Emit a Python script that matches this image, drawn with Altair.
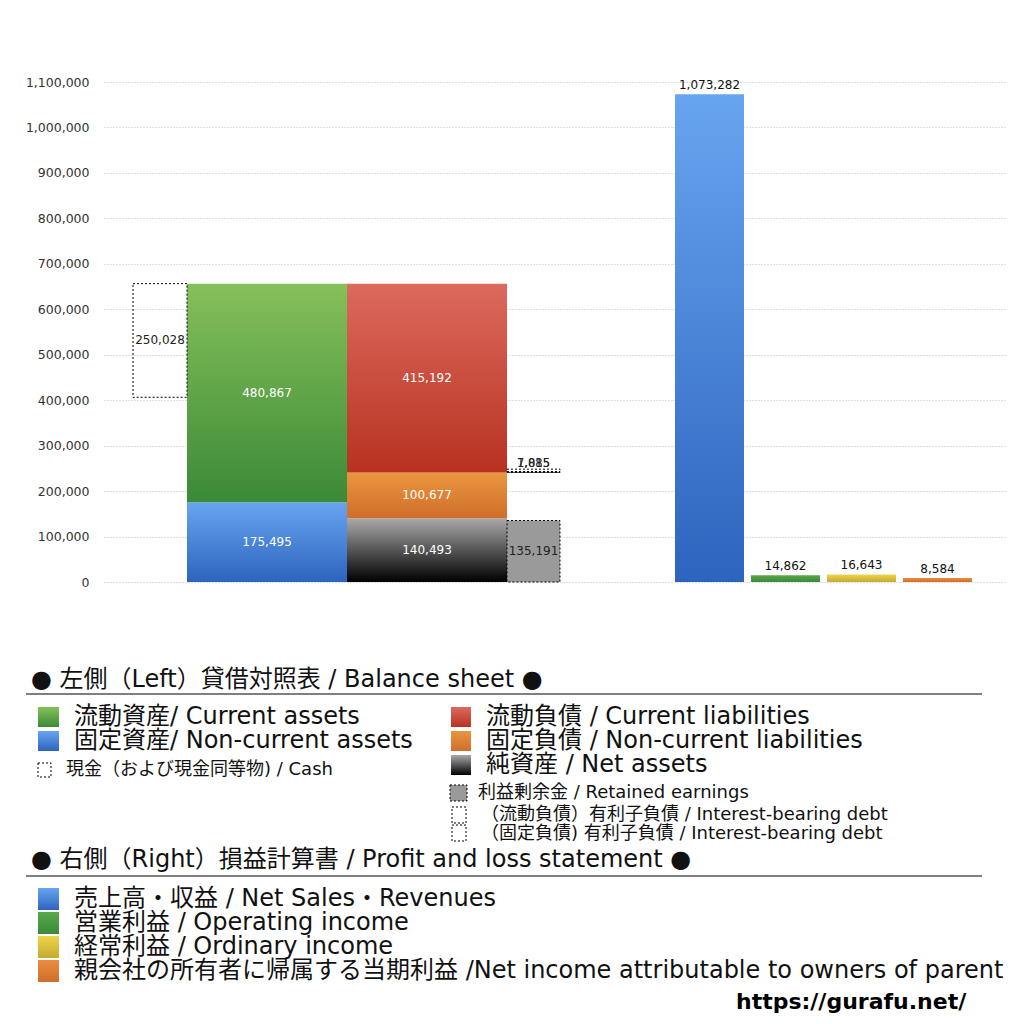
import altair as alt
import pandas as pd

# ---------------- data ----------------
assets_labels = ["固定資産", "流動資産"]            # bottom -> top
assets_values = [175495, 480867]
liab_labels = ["純資産", "固定負債", "流動負債"]       # bottom -> top
liab_values = [140493, 100677, 415192]
cash_value = 250028
retained_value = 135191
ibd_labels = ["（流動負債）有利子負債", "（固定負債) 有利子負債"]
ibd_values = [7085, 1815]
pl_labels = ["売上高・収益", "営業利益", "経常利益", "親会社の所有者に帰属する当期利益"]
pl_values = [1073282, 14862, 16643, 8584]

y_ticks = [0, 100000, 200000, 300000, 400000, 500000, 600000, 700000, 800000, 900000, 1000000, 1100000]

header_bs = "● 左側（Left）貸借対照表 / Balance sheet ●"
header_pl = "● 右側（Right）損益計算書 / Profit and loss statement ●"
legend_big_left = ["流動資産/ Current assets", "固定資産/ Non-current assets"]
legend_small_left = ["現金（および現金同等物) / Cash"]
legend_big_right = ["流動負債 /  Current liabilities", "固定負債 / Non-current liabilities", "純資産 / Net assets"]
legend_small_right = ["利益剰余金 / Retained earnings",
                      "（流動負債）有利子負債 / Interest-bearing debt",
                      "（固定負債) 有利子負債 / Interest-bearing debt"]
legend_pl = ["売上高・収益 / Net Sales・Revenues", "営業利益 / Operating income",
             "経常利益 / Ordinary income",
             "親会社の所有者に帰属する当期利益 /Net income attributable to owners of parent"]
source_text = "https://gurafu.net/"

# ---------------- layout / style ----------------
W, H = 901, 500
OX, OY = 104, 82          # plot origin on the page
FONT = "DejaVu Sans, Noto Sans CJK JP"
NUMFONT = "DejaVu Sans"

slots = {  # horizontal extents of columns in x-scale units
    "cash": (29, 83), "assets": (83, 243), "liab": (243, 403), "side": (403, 456),
    "pl0": (571, 640), "pl1": (647, 716), "pl2": (723, 792), "pl3": (799, 868),
}
G = {
    "green": ("#86c05a", "#3b8a37"),
    "blue": ("#68a5f0", "#2d64be"),
    "red": ("#dc6a5e", "#b8321f"),
    "orange": ("#ea963f", "#d06e2b"),
    "black": ("#aaaaaa", "#000000"),
    "yellow": ("#eed54c", "#c7a92f"),
    "plgreen": ("#5aa84a", "#3b8a37"),
    "plorange": ("#ea8d40", "#d06e2b"),
}


def grad(key):
    top, bottom = G[key]
    return alt.Gradient(gradient="linear",
                        stops=[alt.GradientStop(color=top, offset=0),
                               alt.GradientStop(color=bottom, offset=1)],
                        x1=0, x2=0, y1=0, y2=1)


xs = alt.Scale(domain=[0, W], nice=False, zero=False)
ys = alt.Scale(domain=[0, 1100000], nice=False)
yaxis = alt.Axis(values=y_ticks, title=None, ticks=False, domain=False,
                 labelExpr="format(datum.value, ',')",
                 labelPadding=15, labelFont=NUMFONT, labelFontSize=12.5, labelColor="#333",
                 gridDash=[1, 2], gridColor="#bbbbbb")


def seg_df(slot, y0, y1, label):
    return pd.DataFrame([{"x0": slots[slot][0], "x1": slots[slot][1], "y0": y0, "y1": y1,
                          "ym": (y0 + y1) / 2, "xm": (slots[slot][0] + slots[slot][1]) / 2,
                          "label": f"{label:,}"}])


def enc(ch):
    return ch.encode(x=alt.X("x0:Q", scale=xs, axis=None), x2="x1:Q",
                     y=alt.Y("y0:Q", scale=ys, axis=yaxis), y2="y1:Q")


layers = []
labels = []

# assets column
base = 0
for lab, v, c in zip(assets_labels, assets_values, ["blue", "green"]):
    d = seg_df("assets", base, base + v, v)
    layers.append(enc(alt.Chart(d).mark_rect(color=grad(c))))
    labels.append((d, "white"))
    base += v
total_assets = base

# cash box (hangs from top of assets)
d = seg_df("cash", total_assets - cash_value, total_assets, cash_value)
layers.append(enc(alt.Chart(d).mark_rect(fill="transparent", stroke="black",
                                         strokeDash=[2, 2], strokeWidth=1)))
labels.append((d, "#222"))

# liabilities column
base = 0
bases = []
for lab, v, c in zip(liab_labels, liab_values, ["black", "orange", "red"]):
    d = seg_df("liab", base, base + v, v)
    bases.append(base)
    layers.append(enc(alt.Chart(d).mark_rect(color=grad(c))))
    labels.append((d, "white"))
    base += v

# retained earnings
d = seg_df("side", 0, retained_value, retained_value)
layers.append(enc(alt.Chart(d).mark_rect(fill="#9a9a9a", stroke="black",
                                         strokeDash=[2, 2], strokeWidth=1)))
labels.append((d, "#222"))

# interest-bearing debt boxes (start at the current liabilities base)
ibd_base = bases[2]
for v in ibd_values:
    d = seg_df("side", ibd_base, ibd_base + v, v)
    d["ytop"] = ibd_base + ibd_values[0]
    layers.append(enc(alt.Chart(d).mark_rect(fill="transparent", stroke="black",
                                             strokeDash=[2, 2], strokeWidth=1)))
    layers.append(alt.Chart(d).mark_text(font=NUMFONT, fontSize=11.5, color="#222",
                                         baseline="bottom", dy=0).encode(
        x=alt.X("xm:Q", scale=xs, axis=None), y=alt.Y("ytop:Q", scale=ys, axis=yaxis),
        text="label:N"))

# P&L bars
for i, (v, c) in enumerate(zip(pl_values, ["blue", "plgreen", "yellow", "plorange"])):
    d = seg_df(f"pl{i}", 0, v, v)
    layers.append(enc(alt.Chart(d).mark_rect(color=grad(c))))
    layers.append(alt.Chart(d).mark_text(font=NUMFONT, fontSize=12, color="#111",
                                         baseline="bottom", dy=-2).encode(
        x=alt.X("xm:Q", scale=xs, axis=None), y=alt.Y("y1:Q", scale=ys, axis=yaxis),
        text="label:N"))

for d, col in labels:
    layers.append(alt.Chart(d).mark_text(font=NUMFONT, fontSize=12, color=col,
                                         baseline="middle").encode(
        x=alt.X("xm:Q", scale=xs, axis=None), y=alt.Y("ym:Q", scale=ys, axis=yaxis),
        text="label:N"))

# ---------------- legend (pixel positions) ----------------
PX = dict(scale=None, axis=None)


def ltext(items, xs_, ys_, size, weight="normal", color="#111", font=FONT):
    df = pd.DataFrame({"t": items, "px": [x - OX for x in xs_], "py": [y - OY for y in ys_]})
    return alt.Chart(df).mark_text(align="left", baseline="middle", font=font,
                                   fontSize=size, fontWeight=weight, color=color).encode(
        x=alt.X("px:Q", **PX), y=alt.Y("py:Q", **PX), text="t:N")


def lbox(x0, x1, y0, y1, **style):
    df = pd.DataFrame([{"a": x0 - OX, "b": x1 - OX, "c": y0 - OY, "d": y1 - OY}])
    return alt.Chart(df).mark_rect(**style).encode(
        x=alt.X("a:Q", **PX), x2="b:Q", y=alt.Y("c:Q", **PX), y2="d:Q")


def lrule(x0, x1, y):
    df = pd.DataFrame([{"a": x0 - OX, "b": x1 - OX, "c": y - OY}])
    return alt.Chart(df).mark_rule(color="#555", strokeWidth=1.5).encode(
        x=alt.X("a:Q", **PX), x2="b:Q", y=alt.Y("c:Q", **PX))


dotted = dict(fill="transparent", stroke="black", strokeDash=[2, 2], strokeWidth=1)
BIG = 24
SMALL = 18

layers.append(ltext([header_bs], [31], [680], BIG))
layers.append(lrule(26, 982, 694))
layers.append(ltext(legend_big_left, [74, 74], [717, 741], BIG))
for (c, yc) in zip(["green", "blue"], [717, 741]):
    layers.append(lbox(38, 59, yc - 10, yc + 10, color=grad(c)))
layers.append(ltext(legend_small_left, [66], [770], SMALL))
layers.append(lbox(38, 51, 763, 777, **dotted))

layers.append(ltext(legend_big_right, [486, 486, 486], [717, 741, 765], BIG))
for (c, yc) in zip(["red", "orange", "black"], [717, 741, 765]):
    layers.append(lbox(451, 471, yc - 10, yc + 10, color=grad(c)))
layers.append(ltext(legend_small_right, [478, 481, 481], [793, 815, 834], SMALL))
layers.append(lbox(450, 467, 785, 801, fill="#9a9a9a", stroke="black", strokeDash=[2, 2], strokeWidth=1))
layers.append(lbox(452, 466, 807, 823, **dotted))
layers.append(lbox(452, 466, 825, 841, **dotted))

layers.append(ltext([header_pl], [31], [860], BIG))
layers.append(lrule(26, 982, 876))
ys_pl = [899, 923, 947, 971]
layers.append(ltext(legend_pl, [74] * 4, ys_pl, BIG))
for (c, yc) in zip(["blue", "plgreen", "yellow", "plorange"], ys_pl):
    layers.append(lbox(38, 59, yc - 11, yc + 11, color=grad(c)))

layers.append(ltext([source_text], [736], [1002], 22, weight="bold", color="#000"))

chart = alt.layer(*layers).properties(
    width=W, height=H,
    autosize=alt.AutoSizeParams(type="none"),
    padding={"left": OX - 8, "top": OY - 8, "right": 1016 - OX - W, "bottom": 1016 - OY - H},
).configure_view(stroke=None)

chart.save("out.html", embed_options={"renderer": "svg", "actions": False})
